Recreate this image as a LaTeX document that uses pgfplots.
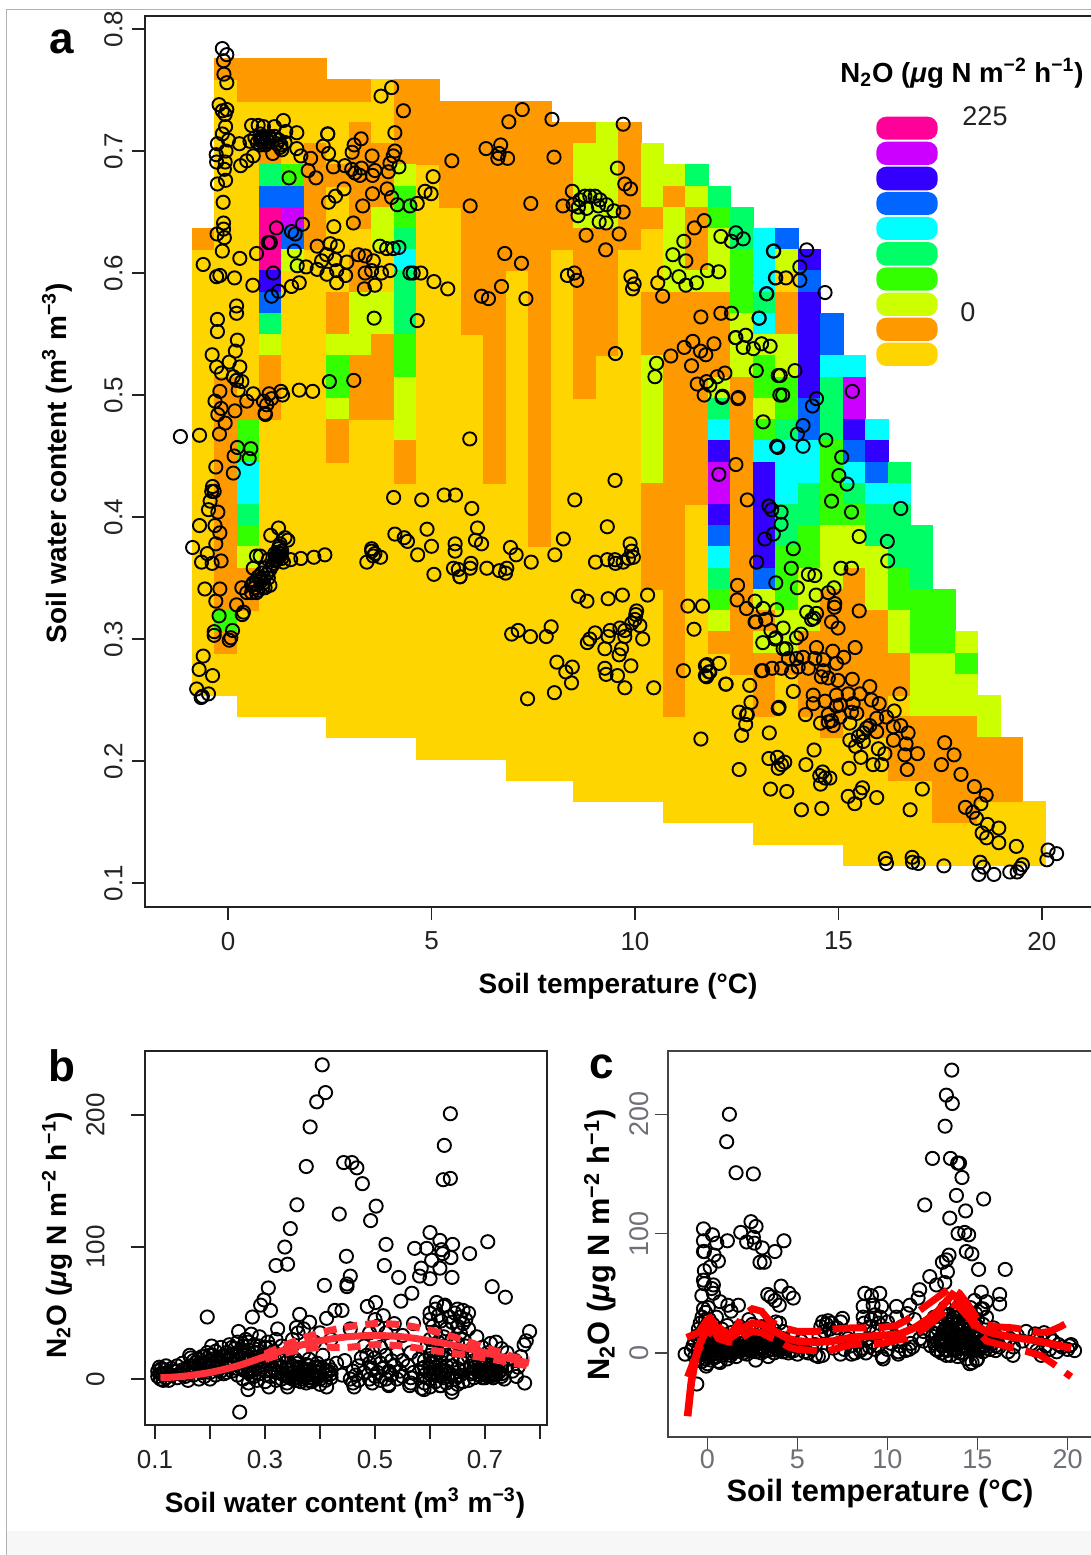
\documentclass[border=0pt]{standalone}
\usepackage{fontspec}
\setmainfont{Liberation Sans}
\usepackage{pgfplots}
\pgfplotsset{compat=1.18}
\definecolor{ca}{HTML}{FFD500}
\definecolor{cb}{HTML}{FF9900}
\definecolor{cc}{HTML}{CCFF00}
\definecolor{cd}{HTML}{33FF00}
\definecolor{ce}{HTML}{00FF66}
\definecolor{cf}{HTML}{00FFFF}
\definecolor{cg}{HTML}{0066FF}
\definecolor{ch}{HTML}{3300FF}
\definecolor{ci}{HTML}{CC00FF}
\definecolor{cj}{HTML}{FF0099}
\definecolor{redb}{HTML}{FF3038}
\definecolor{ax}{HTML}{222222}
\definecolor{axc}{HTML}{444444}
\definecolor{tkc}{HTML}{6E7078}
\newcommand\X[2]{\def\xa{#1}\def\xb{#2}}
\newcommand\C[3]{\addplot[forget plot,fill=c#1,draw=c#1,line width=0.1pt] coordinates {(\xa,#2)(\xb,#2)(\xb,#3)(\xa,#3)} --cycle;}
\newcommand\PX[2]{({#1*0.5pt},{(1555-#2)*0.5pt})}
\newcommand\Nunit{N\textsubscript{2}O (\textit{μ}g N m\textsuperscript{−2} h\textsuperscript{−1})}
\pgfplotsset{
  base/.style={scale only axis, axis line style={line width=0.7pt,draw=ax}, tick style={line width=0.7pt,color=ax},
    tick align=outside, xtick pos=bottom, ytick pos=left, major tick length=6.5pt,
    /pgf/number format/assume math mode=true,
    tick label style={font=\fontsize{13}{13}\selectfont, color=ax},
    minor tick num=0, anchor=south west},
  pts/.style={only marks, mark=o, mark size=3.3pt, mark options={line width=0.95pt,draw=black}},
}
\begin{document}
\begin{tikzpicture}[x=1pt,y=1pt]
\path[use as bounding box] (0,0) rectangle (545.5pt,777.5pt);
\fill[black!3] (3pt,0pt) rectangle (545.5pt,12pt);
\draw[black!30,line width=0.5pt] (3pt,0pt) -- (3pt,772.5pt) -- (545.5pt,772.5pt);
% ---------------- panel a
\begin{axis}[base, at={(72.5pt,324pt)}, width=473.5pt, height=445.5pt,
  xmin=-2.04, xmax=21.23, ymin=0.0803, ymax=0.8107,
  xticklabel style={yshift=-2.5pt},
  yticklabel style={rotate=90,anchor=south,inner ysep=4.5pt},
  xtick={0,5,10,15,20}, ytick={0.1,0.2,0.3,0.4,0.5,0.6,0.7,0.8},
  yticklabels={0.1,0.2,0.3,0.4,0.5,0.6,0.7,0.8}]
\X{-.892}{-.340}\C{a}{.6368}{.254}\C{b}{.6368}{.6194}
\X{-.340}{.211}\C{a}{.776}{.254}\C{b}{.776}{.7586}\C{b}{.515}{.3236}\C{d}{.3236}{.3062}\C{b}{.3062}{.2888}
\X{.211}{.763}\C{a}{.776}{.2366}\C{b}{.776}{.7412}\C{b}{.4976}{.4802}\C{d}{.4802}{.4454}\C{f}{.4454}{.4106}\C{e}{.4106}{.3932}\C{d}{.3932}{.3758}\C{c}{.3758}{.3584}\C{b}{.3584}{.3236}
\X{.763}{1.314}\C{a}{.776}{.2366}\C{b}{.776}{.7412}\C{b}{.7064}{.689}\C{e}{.689}{.6716}\C{g}{.6716}{.6542}\C{j}{.6542}{.602}\C{h}{.602}{.5846}\C{g}{.5846}{.5672}\C{e}{.5672}{.5498}\C{c}{.5498}{.5324}\C{b}{.5324}{.4802}
\X{1.314}{1.866}\C{a}{.776}{.2366}\C{b}{.776}{.7412}\C{d}{.689}{.6716}\C{g}{.6716}{.6542}\C{i}{.6542}{.6368}\C{g}{.6368}{.6194}\C{c}{.6194}{.602}
\X{1.866}{2.418}\C{a}{.776}{.2366}\C{b}{.776}{.7412}\C{b}{.7064}{.6194}
\X{2.418}{2.969}\C{a}{.7586}{.2192}\C{b}{.7586}{.7412}\C{b}{.689}{.6716}\C{b}{.5846}{.5498}\C{c}{.5498}{.5324}\C{d}{.5324}{.4976}\C{c}{.4976}{.4802}\C{b}{.4802}{.4454}
\X{2.969}{3.521}\C{a}{.7586}{.2192}\C{b}{.7586}{.7412}\C{b}{.7238}{.6368}\C{b}{.6194}{.5846}\C{c}{.5846}{.5324}\C{b}{.5324}{.4802}
\X{3.521}{4.072}\C{a}{.7586}{.2192}\C{b}{.7064}{.6542}\C{c}{.6542}{.6194}\C{c}{.5846}{.5498}\C{b}{.5498}{.4802}
\X{4.072}{4.624}\C{a}{.7586}{.2192}\C{b}{.7586}{.689}\C{c}{.689}{.6716}\C{d}{.6716}{.6368}\C{e}{.6368}{.6194}\C{f}{.6194}{.602}\C{e}{.602}{.5498}\C{d}{.5498}{.515}\C{c}{.515}{.4628}\C{b}{.4628}{.428}
\X{4.624}{5.176}\C{a}{.7586}{.2018}\C{b}{.7586}{.689}
\X{5.176}{5.727}\C{a}{.7412}{.2018}\C{b}{.7412}{.6542}
\X{5.727}{6.279}\C{a}{.7412}{.2018}\C{b}{.7412}{.5498}
\X{6.279}{6.830}\C{a}{.7412}{.2018}\C{b}{.7412}{.428}
\X{6.830}{7.382}\C{a}{.7412}{.1844}\C{b}{.7412}{.602}
\X{7.382}{7.934}\C{a}{.7412}{.1844}\C{b}{.7412}{.3758}
\X{7.934}{8.485}\C{a}{.7238}{.1844}\C{b}{.7238}{.6194}
\X{8.485}{9.037}\C{a}{.7238}{.167}\C{b}{.7238}{.7064}\C{c}{.7064}{.6368}\C{b}{.6368}{.4976}
\X{9.037}{9.588}\C{a}{.7238}{.167}\C{c}{.7238}{.6368}\C{b}{.6368}{.5324}
\X{9.588}{10.14}\C{a}{.7238}{.167}\C{b}{.7238}{.6194}
\X{10.14}{10.692}\C{a}{.7064}{.167}\C{c}{.7064}{.6542}\C{b}{.6542}{.6368}\C{b}{.5846}{.5324}\C{c}{.5324}{.428}\C{b}{.428}{.341}
\X{10.692}{11.243}\C{a}{.689}{.1496}\C{c}{.689}{.6716}\C{b}{.6716}{.6542}\C{c}{.6542}{.5846}\C{b}{.5846}{.2366}
\X{11.243}{11.795}\C{a}{.689}{.1496}\C{e}{.689}{.6716}\C{c}{.6716}{.6542}\C{b}{.6542}{.602}\C{c}{.602}{.5846}\C{b}{.5846}{.4106}
\X{11.795}{12.346}\C{a}{.6716}{.1496}\C{e}{.6716}{.6542}\C{d}{.6542}{.6368}\C{c}{.6368}{.5846}\C{b}{.5846}{.515}\C{c}{.515}{.4976}\C{e}{.4976}{.4802}\C{f}{.4802}{.4628}\C{h}{.4628}{.4454}\C{i}{.4454}{.4106}\C{h}{.4106}{.3932}\C{g}{.3932}{.3758}\C{f}{.3758}{.3584}\C{e}{.3584}{.341}\C{d}{.341}{.3236}\C{c}{.3236}{.3062}\C{b}{.3062}{.2888}
\X{12.346}{12.898}\C{a}{.6542}{.1496}\C{e}{.6542}{.6194}\C{d}{.6194}{.5672}\C{c}{.5672}{.515}\C{b}{.515}{.2714}
\X{12.898}{13.45}\C{a}{.6368}{.1322}\C{f}{.6368}{.5846}\C{e}{.5846}{.5672}\C{f}{.5672}{.5498}\C{c}{.5498}{.5324}\C{d}{.5324}{.4976}\C{c}{.4976}{.4802}\C{d}{.4802}{.4628}\C{f}{.4628}{.4454}\C{h}{.4454}{.3584}\C{g}{.3584}{.341}\C{c}{.341}{.3236}\C{b}{.3236}{.3062}\C{c}{.3062}{.2888}\C{b}{.2888}{.2366}
\X{13.45}{14.001}\C{a}{.6368}{.1322}\C{g}{.6368}{.6194}\C{c}{.6194}{.602}\C{b}{.5846}{.5498}\C{c}{.5498}{.515}\C{d}{.515}{.4802}\C{e}{.4802}{.4628}\C{f}{.4628}{.4106}\C{e}{.4106}{.3758}\C{d}{.3758}{.3236}\C{c}{.3236}{.2888}\C{b}{.2888}{.2714}
\X{14.001}{14.553}\C{a}{.6194}{.1322}\C{h}{.6194}{.602}\C{g}{.602}{.5846}\C{h}{.5846}{.4976}\C{g}{.4976}{.4628}\C{f}{.4628}{.428}\C{e}{.428}{.3932}\C{d}{.3932}{.3584}\C{c}{.3584}{.3062}\C{b}{.3062}{.2366}
\X{14.553}{15.104}\C{a}{.5672}{.1322}\C{g}{.5672}{.5324}\C{f}{.5324}{.515}\C{e}{.515}{.4628}\C{d}{.4628}{.3932}\C{c}{.3932}{.341}\C{b}{.341}{.2192}
\X{15.104}{15.656}\C{a}{.5324}{.1148}\C{f}{.5324}{.515}\C{i}{.515}{.4802}\C{h}{.4802}{.4628}\C{g}{.4628}{.4454}\C{f}{.4454}{.428}\C{e}{.428}{.4106}\C{d}{.4106}{.3932}\C{c}{.3932}{.3584}\C{b}{.3584}{.2366}
\X{15.656}{16.208}\C{a}{.4802}{.1148}\C{f}{.4802}{.4628}\C{h}{.4628}{.4454}\C{g}{.4454}{.428}\C{f}{.428}{.4106}\C{e}{.4106}{.3758}\C{c}{.3758}{.3236}\C{b}{.3236}{.2192}
\X{16.208}{16.759}\C{a}{.4454}{.1148}\C{e}{.4454}{.428}\C{f}{.428}{.4106}\C{e}{.4106}{.3584}\C{d}{.3584}{.3236}\C{c}{.3236}{.2888}\C{b}{.2888}{.254}\C{b}{.2366}{.1844}
\X{16.759}{17.311}\C{a}{.3932}{.1148}\C{e}{.3932}{.341}\C{d}{.341}{.2888}\C{c}{.2888}{.2366}\C{b}{.2366}{.1844}
\X{17.311}{17.862}\C{a}{.341}{.1148}\C{d}{.341}{.2888}\C{c}{.2888}{.2366}\C{b}{.2366}{.1496}
\X{17.862}{18.414}\C{a}{.3062}{.1148}\C{c}{.3062}{.2888}\C{d}{.2888}{.2714}\C{c}{.2714}{.2366}\C{b}{.2366}{.1496}
\X{18.414}{18.966}\C{a}{.254}{.1148}\C{c}{.254}{.2192}\C{b}{.2192}{.167}
\X{18.966}{19.517}\C{a}{.2192}{.1148}\C{b}{.2192}{.167}
\X{19.517}{20.069}\C{a}{.167}{.1148}
\addplot[pts] coordinates {
(-.14,.784)(-.03,.779)(-.11,.774)(-.10,.763)(-.03,.756)(-.22,.738)(-.14,.733)(-.03,.734)(-.07,.730)(-.06,.720)(-.14,.714)(.01,.709)(-.26,.706)(-.05,.700)(-.29,.697)(-.07,.691)(-.28,.691)(-.09,.685)(-.06,.676)(-.26,.673)(-.12,.658)(-.11,.641)(-.11,.636)(-.27,.632)(-.09,.629)(-.14,.618)(-.61,.607)
(.28,.706)(.58,.721)(.74,.721)(.87,.720)(1.14,.720)(1.36,.725)(1.42,.716)(1.69,.715)(.54,.708)(.66,.711)(.79,.710)(.87,.711)(.95,.710)(.79,.714)(1.15,.712)(1.40,.707)(1.28,.703)(1.32,.701)(1.10,.698)(.62,.696)(.46,.692)(.31,.688)(1.69,.702)(1.79,.696)(2.03,.694)(1.97,.684)(2.16,.678)(1.50,.678)(2.45,.714)(2.45,.714)(2.34,.704)(2.47,.698)(2.59,.687)(2.87,.688)(3.04,.685)(3.12,.682)(3.24,.680)(3.28,.686)(3.27,.710)(3.10,.705)(3.05,.699)(3.54,.696)(3.61,.684)(3.55,.680)(3.94,.683)(3.98,.690)(4.06,.696)(4.10,.700)(4.10,.715)(4.20,.687)(3.76,.745)(4.02,.752)(4.31,.733)(5.50,.692)(5.04,.679)
(.82,.708)(.90,.707)(.98,.708)(.85,.712)(1.02,.712)(.72,.707)(.92,.705)(.80,.705)(1.20,.706)(1.25,.709)(1.30,.705)
(2.85,.669)(2.64,.663)(2.47,.658)(3.55,.665)(3.91,.669)(4.02,.662)(4.16,.656)(4.47,.655)(4.65,.657)(4.84,.667)(4.99,.665)(3.31,.655)(3.08,.641)(2.60,.638)
(1.19,.637)(1.56,.634)(1.65,.632)(1.83,.640)(1.04,.625)(.99,.625)(1.63,.618)(.70,.616)(.29,.612)(1.11,.600)(1.24,.585)(1.07,.581)(.61,.590)(.16,.596)(-.20,.598)(-.28,.597)(1.56,.589)(1.75,.592)(1.70,.606)(1.92,.605)(2.19,.622)(2.51,.624)(2.69,.622)(2.42,.615)(2.30,.610)(2.63,.611)(2.92,.609)(3.20,.615)(3.37,.614)(3.57,.610)(3.37,.600)(3.53,.602)(2.19,.603)(2.43,.599)(2.67,.602)(2.89,.598)(2.67,.592)(3.61,.590)(3.35,.587)(3.73,.622)(3.90,.620)(4.06,.620)(4.20,.621)(3.77,.600)(3.98,.602)(4.47,.600)(4.55,.600)(4.74,.600)(5.06,.593)(5.40,.587)(.21,.573)(.21,.567)(-.26,.562)(-.26,.552)(3.59,.563)(4.65,.561)
(.23,.545)(.18,.536)(-.39,.533)(.03,.527)(.29,.523)(-.28,.523)(-.16,.518)(.13,.515)(.34,.511)(.25,.504)(.21,.512)(-.20,.503)(.62,.501)(1.01,.501)(1.30,.503)(1.34,.500)(1.07,.497)(.87,.495)(.95,.492)(.46,.495)(-.32,.495)(-.17,.489)(.17,.487)(-.25,.484)(.91,.485)(.92,.484)(1.75,.504)(2.08,.503)(2.49,.511)(3.09,.512)(-.07,.477)(-.21,.468)(-.70,.467)(-1.17,.466)(.23,.457)(.56,.456)(.15,.450)(.52,.448)(-.30,.441)(.13,.436)(-.38,.425)(-.40,.421)(-.34,.421)(-.44,.413)(-.48,.406)(-.25,.404)(-.70,.393)(-.32,.393)(-.20,.387)(-.30,.378)(-.87,.375)(-.51,.370)(-.65,.363)(-.39,.362)(-.17,.364)(-.57,.341)(-.20,.341)(-.30,.331)(-.22,.319)(.34,.342)(.21,.328)(.38,.322)(.35,.320)(-.34,.306)(-.34,.303)(.11,.307)(.07,.301)(.03,.299)
(1.24,.391)(1.05,.385)(1.47,.381)(1.40,.383)(1.28,.378)(1.24,.374)(1.32,.372)(1.15,.370)(1.28,.368)(1.20,.365)(1.36,.363)(1.54,.365)(1.79,.366)(2.11,.367)(2.38,.369)(.70,.368)(.79,.368)(.99,.365)(.91,.358)(.83,.354)(1.03,.357)(.99,.350)(.74,.351)(.62,.358)(.87,.346)(1.03,.344)(.62,.346)(.74,.340)(.58,.338)(.46,.338)(.91,.342)(.70,.338)(.58,.344)
(1.26,.376)(1.22,.371)(1.30,.370)(1.18,.368)(1.24,.367)(1.32,.366)(1.12,.362)(1.08,.360)(1.16,.364)(.95,.353)(.88,.350)(.80,.347)(.68,.345)(.85,.342)(.66,.342)
(3.53,.374)(3.53,.372)(3.57,.368)(3.75,.367)(3.41,.363)(3.61,.370)(4.10,.386)(4.33,.383)(4.41,.380)(4.66,.369)(4.89,.390)(5.00,.376)(5.06,.353)(5.58,.378)(5.58,.372)(5.54,.358)(5.66,.357)(5.70,.351)(4.07,.416)(4.76,.414)(5.31,.418)(5.59,.418)
(-.61,.286)(-.71,.275)(-.38,.270)(-.77,.259)(-.48,.255)(-.63,.253)(-.66,.252)
(7.23,.734)(6.90,.724)(7.96,.726)(9.71,.722)(6.34,.702)(6.70,.705)(6.66,.698)(6.63,.694)(6.87,.694)(8.01,.695)(9.57,.686)(9.75,.673)(9.89,.669)(8.46,.667)(5.95,.655)(7.44,.657)(8.23,.655)(8.48,.656)(8.65,.660)(8.77,.663)(8.89,.663)(9.02,.663)(9.14,.660)(8.61,.654)(8.81,.653)(9.10,.655)(9.30,.656)(9.48,.651)(9.71,.650)(8.60,.647)(9.12,.642)(9.29,.641)(8.80,.631)(9.61,.632)(9.28,.619)(6.80,.616)(7.21,.608)(8.34,.598)(8.51,.600)(8.57,.594)(9.90,.597)(9.98,.591)(9.94,.587)(10.56,.592)(10.72,.600)(11.08,.597)(11.25,.590)(11.51,.592)(10.68,.581)(11.78,.602)(12.06,.601)(11.25,.610)(10.93,.615)(11.20,.626)(11.46,.637)(11.70,.643)(12.11,.630)(12.37,.626)(12.48,.633)(12.66,.628)(13.40,.618)(13.45,.596)(13.23,.583)(6.72,.589)(6.23,.581)(6.40,.579)(7.32,.579)(11.62,.564)(12.11,.567)(12.37,.567)(13.05,.563)(9.52,.534)(10.53,.526)(10.49,.515)(10.88,.532)(11.21,.539)(11.42,.544)(11.61,.536)(11.74,.533)(11.94,.542)(11.39,.524)(11.53,.509)(11.76,.511)(12.02,.515)(12.21,.518)(11.84,.508)(11.70,.500)(12.15,.499)(12.54,.498)(12.48,.547)(12.72,.549)(12.66,.539)(12.91,.538)(13.11,.542)(13.32,.540)(12.98,.520)(13.52,.516)(13.56,.500)
(5.94,.464)(9.51,.430)(8.52,.414)(12.48,.443)(12.06,.435)(12.76,.414)(5.99,.407)(9.32,.392)(6.13,.391)(6.08,.381)(6.23,.378)(6.94,.375)(7.08,.369)(7.45,.363)(8.24,.382)(8.03,.369)(6.36,.358)(6.67,.356)(6.85,.358)(6.82,.354)(5.97,.362)(5.95,.358)(5.70,.351)(9.88,.378)(9.92,.372)(9.96,.367)(9.03,.363)(9.32,.365)(9.51,.365)(9.52,.362)(9.71,.363)(9.84,.366)(8.61,.335)(8.82,.331)(9.34,.333)(9.69,.336)(10.31,.336)(10.04,.323)(10.02,.320)(10.0,.316)(9.92,.313)(10.12,.311)(9.75,.307)(9.63,.309)(9.39,.307)(9.34,.302)(9.02,.305)(8.89,.300)(8.83,.297)(9.75,.302)(10.19,.300)(6.97,.304)(7.13,.307)(7.43,.302)(7.82,.302)(7.94,.310)(9.26,.292)(9.67,.292)(9.61,.287)(8.08,.281)(8.46,.277)(8.30,.273)(8.44,.264)(9.26,.276)(9.29,.271)(9.57,.270)(9.90,.278)(7.36,.251)(8.02,.256)(9.75,.260)(10.46,.260)(11.19,.274)(11.30,.327)(11.66,.327)(11.45,.308)(12.52,.344)(12.51,.332)(12.74,.325)(12.95,.331)(13.15,.325)(13.48,.324)(12.95,.314)(13.21,.316)(13.34,.307)(13.14,.297)(13.44,.300)(11.77,.279)(12.07,.280)(11.84,.273)(11.76,.269)(12.24,.263)(12.82,.262)(12.85,.248)(13.14,.274)(13.37,.276)(12.56,.240)(12.74,.238)(13.52,.243)(13.15,.478)(13.48,.458)(13.29,.409)(13.36,.406)(13.40,.386)(13.19,.382)(12.99,.363)(13.46,.346)
(13.41,.618)(14.22,.619)(14.05,.605)(13.46,.596)(13.71,.596)(14.05,.594)(14.67,.584)(13.24,.583)(13.05,.563)(12.47,.547)(13.57,.516)(13.93,.520)(13.63,.500)(15.34,.503)(12.14,.498)(12.53,.497)(14.46,.497)(14.36,.491)(14.13,.475)(13.99,.468)(14.13,.458)(13.51,.457)(14.69,.463)(15.08,.449)(15.01,.434)(15.21,.427)(14.83,.413)(15.32,.404)(16.53,.407)(13.59,.404)(13.59,.394)(15.51,.384)(16.2,.380)
(13.89,.374)(13.84,.358)(16.21,.364)(15.06,.358)(15.32,.358)(14.26,.353)(14.42,.352)(13.99,.342)(14.89,.342)(14.75,.338)(14.45,.336)(14.91,.329)(14.90,.326)(15.51,.323)(14.22,.322)(14.46,.321)(14.40,.317)(14.34,.316)(14.83,.314)(14.99,.309)(12.97,.314)(13.64,.309)(13.46,.301)(14.08,.304)(13.97,.301)(13.64,.292)(13.71,.292)(14.46,.293)(14.86,.290)(15.41,.293)(15.13,.285)(14.13,.285)(13.77,.284)(13.97,.284)(14.42,.284)(14.63,.283)(13.11,.274)(13.60,.276)(13.85,.273)(14.01,.277)(14.26,.276)(14.95,.280)(14.63,.274)(14.58,.269)(14.75,.268)(14.99,.266)(15.34,.267)(11.73,.278)(11.82,.273)(11.73,.270)(12.23,.263)(12.76,.238)(12.72,.230)(12.62,.221)(11.62,.218)(13.30,.223)(13.54,.244)(13.89,.257)(14.38,.254)(14.38,.247)(14.19,.238)(14.67,.249)(14.56,.231)(14.83,.233)(14.75,.238)(14.95,.254)(14.95,.245)(15.04,.246)(15.24,.255)(15.53,.255)(15.77,.261)(15.81,.250)(16.0,.247)(16.51,.255)(16.37,.241)(15.36,.247)(15.32,.240)(15.45,.239)(15.28,.231)(15.04,.236)(14.75,.232)(14.87,.229)(15.94,.235)(16.18,.236)(15.77,.229)(15.69,.227)(15.94,.224)(16.35,.228)(16.53,.229)(16.71,.223)(16.35,.217)(16.66,.214)(15.61,.223)(15.49,.220)(15.28,.217)(15.61,.216)(15.42,.212)(15.98,.210)(16.14,.206)(16.63,.205)(16.94,.206)(15.55,.203)(15.85,.197)(16.06,.197)(16.69,.193)(17.61,.215)(17.84,.205)(17.53,.197)(18.01,.189)(18.34,.179)(18.63,.172)(18.5,.165)(18.12,.162)(18.3,.158)(18.39,.153)(18.66,.148)(18.94,.145)(18.53,.141)(18.64,.137)(18.94,.133)(19.37,.130)(20.15,.127)(20.36,.124)(20.12,.119)
(13.29,.202)(13.50,.203)(13.68,.199)(13.60,.197)(13.52,.194)(14.40,.209)(14.20,.197)(14.61,.191)(14.54,.188)(14.67,.186)(14.79,.186)(14.56,.181)(15.26,.194)(12.56,.193)(13.33,.177)(13.73,.175)(14.09,.160)(14.59,.161)(15.24,.171)(15.59,.178)(15.53,.174)(15.40,.165)(15.94,.170)(16.76,.160)(17.06,.177)(16.15,.120)(16.18,.116)(16.81,.121)(16.82,.117)(16.96,.116)(17.59,.114)(18.48,.117)(18.56,.113)(18.45,.107)(18.82,.107)(19.21,.109)(19.39,.109)(19.52,.115)(19.46,.112)
};
\end{axis}
% ---------------- panel b
\begin{axis}[base, at={(72.5pt,65pt)}, width=201pt, height=187pt,
  clip marker paths=true,
  xmin=0.0818, xmax=0.8127, ymin=-34.8, ymax=248.5,
  xticklabel style={yshift=-2pt},
  yticklabel style={rotate=90,anchor=south,inner ysep=13pt},
  xtick={0.1,0.2,0.3,0.4,0.5,0.6,0.7,0.8}, xticklabels={0.1,,0.3,,0.5,,0.7,},
  ytick={0,100,200}, yticklabels={0,100,200}, major tick length=7pt]
\addplot[pts] coordinates {
(.404,238)(.410,217)(.394,210)(.382,191)(.637,201)(.626,177)(.375,161)(.443,164)(.458,164)(.467,160)(.477,148)(.624,151)(.637,152)(.358,132)(.502,131)(.435,125)(.492,120)(.346,114)(.336,100)(.320,86)(.341,87)(.306,69)(.298,60)(.292,56)(.310,52)(.277,47)(.195,47)(.448,93)(.455,78)(.449,72)(.449,70)(.408,71)(.520,102)(.517,86)(.543,77)(.572,99)(.594,99)(.600,111)(.618,105)(.641,102)(.621,98)(.623,95)(.638,92)(.672,95)(.705,104)(.603,90)(.584,84)(.581,78)(.600,76)(.618,84)(.640,77)(.713,70)(.737,62)(.567,65)(.547,59)(.501,58)(.486,55)(.612,58)(.627,56)(.427,52)(.440,52)(.781,36)(.775,29)(.771,26)(.363,49)(.412,46)(.381,43)(.357,39)(.323,38)(.252,36)(.203,25)(.163,18)(.772,-3)(.254,-25)(.640,-10)(.269,-8)(.307,-6)(.341,-6)(.412,-6)(.462,-6)(.525,-5)(.563,-5)(.589,-8)(.618,-5)(.757,2)
(.105,2)(.105,6)(.108,9)(.11,0)(.11,4)(.112,8)(.115,-1)(.115,3)(.118,7)(.12,1)(.12,10)(.122,5)(.125,-1)(.13,3)(.13,8)(.135,6)(.14,1)(.14,10)(.145,4)(.15,7)(.15,12)(.155,2)(.16,-1)(.16,5)(.165,10)(.165,16)(.17,3)(.175,7)(.175,13)(.18,0)(.18,10)(.185,5)(.185,17)(.19,2)(.19,12)(.195,8)(.195,20)(.2,0)(.2,5)(.2,14)(.205,10)(.205,18)(.21,3)(.21,21)(.215,7)(.215,14)(.22,12)(.22,24)(.225,4)(.225,17)(.23,9)(.23,20)(.235,14)(.235,26)(.24,6)(.24,18)(.245,11)(.245,23)(.25,3)(.25,15)(.25,28)(.255,9)(.255,20)(.26,0)(.26,13)(.26,25)(.265,6)(.265,18)(.265,30)(.27,-3)(.27,10)(.27,22)(.275,3)(.275,15)(.275,34)(.28,7)(.28,26)(.285,-1)(.285,12)(.285,20)(.29,4)(.29,32)(.295,9)(.295,17)(.3,-2)(.3,6)(.3,24)(.305,12)(.305,28)(.31,2)(.31,16)(.315,8)(.315,21)(.32,-1)(.32,11)(.32,30)(.325,5)(.325,15)(.33,0)(.33,9)(.33,25)(.335,3)(.335,18)(.34,-3)(.34,7)(.34,13)(.345,1)(.345,22)(.35,5)(.35,10)(.35,30)(.355,-1)(.355,3)(.355,15)(.36,1)(.36,7)(.36,12)(.36,35)(.365,-2)(.365,4)(.365,9)(.37,0)(.37,6)(.37,20)(.37,38)(.375,-3)(.375,3)(.375,11)(.38,1)(.38,7)(.38,15)(.385,-2)(.385,4)(.39,0)(.39,9)(.39,28)(.395,2)(.395,12)(.4,-4)(.4,5)(.4,35)(.405,8)(.405,18)(.41,-1)(.41,3)(.415,6)(.415,10)(.42,1)(.42,7)(.42,30)(.43,12)(.44,3)(.445,14)(.455,0)(.455,38)(.46,-3)(.46,6)(.465,3)(.47,-1)(.47,10)(.475,16)(.48,5)(.48,25)(.485,18)(.49,0)(.49,12)(.49,35)(.495,-3)(.495,8)(.495,22)(.5,2)(.5,16)(.5,30)(.5,45)(.505,5)(.505,40)(.51,-1)(.51,12)(.51,24)(.515,8)(.515,48)(.52,0)(.52,18)(.52,35)(.525,-4)(.525,6)(.53,3)(.53,14)(.53,28)(.535,10)(.535,42)(.54,0)(.54,20)(.545,6)(.55,2)(.55,14)(.55,33)(.56,10)(.565,-3)(.565,1)(.565,20)(.57,5)(.57,42)(.58,15)(.585,-7)(.585,8)(.59,-3)(.59,3)(.59,14)(.595,25)(.6,-6)(.6,0)(.6,8)(.6,18)(.6,30)(.6,45)(.6,50)(.605,5)(.605,12)(.605,22)(.605,40)(.61,-2)(.61,9)(.61,16)(.61,35)(.61,53)(.615,3)(.615,20)(.615,28)(.615,48)(.62,-5)(.62,7)(.62,13)(.62,44)(.625,1)(.625,25)(.625,32)(.625,55)(.63,-3)(.63,10)(.63,18)(.63,38)(.635,4)(.635,47)(.64,-7)(.64,14)(.64,30)(.64,43)(.645,0)(.645,22)(.645,50)(.65,-4)(.65,8)(.65,27)(.65,40)(.65,53)(.655,3)(.655,16)(.655,35)(.655,47)(.66,-2)(.66,12)(.66,30)(.66,42)(.66,52)(.665,7)(.665,25)(.665,45)(.67,-1)(.67,17)(.67,38)(.67,50)(.675,4)(.675,10)(.68,1)(.68,14)(.68,21)(.685,7)(.685,32)(.69,3)(.69,11)(.69,18)(.695,1)(.695,6)(.695,24)(.7,4)(.7,9)(.7,14)(.705,2)(.705,7)(.705,20)(.71,4)(.71,11)(.71,27)(.715,1)(.715,6)(.72,3)(.72,9)(.72,16)(.72,28)(.725,5)(.725,12)(.73,2)(.73,7)(.73,23)(.735,0)(.74,10)(.74,20)(.75,6)(.755,14)(.76,9)(.765,17)
(.14,6)(.15,3)(.16,9)(.17,8)(.17,14)(.18,6)(.18,15)(.19,7)(.19,17)(.2,9)(.2,18)(.21,8)(.21,14)(.22,6)(.22,17)(.23,5)(.23,14)(.24,12)(.24,24)(.25,8)(.25,20)(.26,7)(.26,18)(.27,5)(.27,15)(.27,28)(.28,2)(.28,14)(.28,20)(.29,10)(.29,25)(.3,11)(.3,18)(.31,7)(.31,24)(.32,5)(.33,4)(.33,14)(.34,2)(.34,18)(.35,0)(.36,3)(.36,5)(.36,9)(.37,2)(.37,4)(.37,8)(.38,-1)(.38,3)(.38,10)(.39,3)(.39,6)(.4,0)(.4,9)(.41,6)(.42,4)(.59,9)(.6,4)(.6,12)(.61,5)(.61,13)(.62,2)(.62,18)(.63,6)(.64,3)(.64,10)(.65,2)(.68,5)(.68,9)(.69,7)(.69,14)(.7,1)(.7,6)(.7,11)(.71,2)(.71,8)(.71,14)(.72,6)(.72,12)(.73,4)(.73,10)
};
\addplot[redb,line width=3.5pt,smooth] coordinates {(.11,1)(.15,2)(.2,5)(.25,10)(.3,17)(.35,24)(.4,29)(.45,32)(.5,33)(.55,32)(.6,29)(.65,25)(.7,20)(.75,15)(.78,12)};
\addplot[redb,line width=3.5pt,smooth,dash pattern=on 6.5pt off 4pt] coordinates {(.3,19)(.35,28)(.4,35)(.45,39.5)(.5,42)(.55,41)(.6,37)(.65,31)(.7,24)(.75,17)(.78,14)};
\addplot[redb,line width=3.5pt,smooth,dash pattern=on 6.5pt off 4pt] coordinates {(.3,15)(.35,21)(.4,24)(.45,24)(.5,26)(.55,25)(.6,22)(.65,19)(.7,16)(.75,12)(.78,10)};
\end{axis}
% ---------------- panel c
\begin{axis}[base, at={(334pt,59pt)}, width=212pt, height=193pt,
  clip marker paths=true,
  xmin=-2.19, xmax=21.36, ymin=-70.4, ymax=253,
  axis line style={line width=0.8pt,draw=axc}, tick style={line width=0.7pt,color=axc},
  tick label style={font=\fontsize{13.5}{13.5}\selectfont, color=tkc},
  xticklabel style={yshift=3.5pt},
  yticklabel style={rotate=90,anchor=south,inner ysep=2.8pt},
  xtick={0,5,10,15,20}, ytick={0,100,200}, yticklabels={0,100,200}, major tick length=6.5pt]
\addplot[pts] coordinates {
(1.22,200)(1.07,177)(1.59,151)(2.55,150)(13.57,237)(13.27,216)(13.60,209)(13.2,190)(12.5,163)(13.5,163)(13.9,159)(14.0,159)(14.14,147)(13.83,132)(15.34,129)(12.07,124)(14.34,119)(13.46,113)(2.42,110)(2.70,106)(-.22,104)(.28,99)(-.22,94)(.52,92)(1.11,94)(1.85,101)(2.18,93)(2.55,97)(2.61,92)(3.05,88)(3.75,85)(4.25,94)(-.22,85)(-.17,85)(.37,82)(.61,77)(2.92,76)(3.16,76)(-.17,69)(.15,72)(-.22,61)(-.17,58)(.33,57)(.24,54)(-.31,48)(.33,50)(.70,43)(1.13,40)(1.72,40)(1.31,35)(-.22,37)(3.35,49)(3.53,47)(3.75,44)(3.99,40)(4.09,56)(4.53,50)(4.77,46)
(13.92,100)(14.29,101)(14.51,99)(14.38,85)(14.69,83)(13.42,82)(13.05,76)(13.27,78)(13.33,68)(15.06,70)(16.54,70)(12.35,64)(12.72,57)(13.18,59)(11.79,53)(11.70,46)(11.24,40)(10.5,39)(15.21,51)(16.23,49)(16.23,41)(15.49,43)(14.84,44)(15.30,37)(8.74,50)(9.11,48)(9.57,50)(8.65,39)(9.2,40)(9.67,39)(7.5,29)(8.65,30)(9.3,32)(-.59,-26)(-1.24,-1)(2.68,-6)(-.07,-11)(.70,-8)(3.38,-3)(6.16,-3)(7.39,-1)(9.76,-5)(10.6,-1)(13.27,-2)(14.57,-9)(14.94,-6)(16.97,-2)(18.54,-2)(20.39,2)(20.11,6)
(-.9,2)(-.8,6)(-.7,-3)(-.7,10)(-.6,14)(-.5,-5)(-.5,3)(-.5,20)(-.4,8)(-.4,25)(-.3,-7)(-.3,0)(-.3,14)(-.3,30)(-.2,5)(-.2,20)(-.1,-5)(-.1,10)(-.1,28)(-.1,34)(0,-9)(0,2)(0,15)(0,24)(.05,6)(.05,38)(.1,-3)(.1,11)(.1,28)(.2,-6)(.2,4)(.2,18)(.3,0)(.3,9)(.3,24)(.4,-4)(.4,13)(.5,2)(.5,7)(.5,30)(.6,-7)(.6,16)(.7,4)(.7,10)(.8,-2)(.8,20)(.9,6)(.9,13)(1,0)(1,8)(1.1,-5)(1.1,3)(1.1,23)(1.2,10)(1.3,-2)(1.3,6)(1.3,17)(1.4,0)(1.4,12)(1.5,4)(1.5,8)(1.6,-3)(1.7,15)(1.8,2)(1.8,22)(1.9,8)(2,0)(2,12)(2.1,5)(2.1,20)(2.2,-1)(2.3,9)(2.3,28)(2.4,3)(2.4,15)(2.5,7)(2.5,24)(2.6,11)(2.7,1)(2.7,18)(2.8,5)(2.9,13)(3,0)(3,8)(3,22)(3.1,4)(3.2,16)(3.3,10)(3.4,2)(3.4,24)(3.5,6)(3.6,13)(3.7,0)(3.7,19)(3.8,8)(3.8,26)(3.9,3)(4,12)(4,25)(4.1,6)(4.2,1)(4.2,18)(4.3,10)(4.4,4)(4.5,0)(4.6,7)(4.7,14)(4.8,2)(5,-1)(5,5)(5.2,10)(5.4,1)(5.6,0)(5.8,3)(6,-2)(6,7)(6.2,14)(6.3,22)(6.4,-2)(6.4,26)(6.5,18)(6.6,24)(6.7,27)(6.8,20)(6.9,25)(7,4)(7,16)(7.2,21)(7.3,8)(7.4,26)(7.6,3)(7.8,12)(8,-1)(8,6)(8.2,0)(8.3,10)(8.5,2)(8.5,18)(8.6,4)(8.7,25)(8.8,0)(8.9,12)(9,5)(9,22)(9.1,28)(9.2,9)(9.3,3)(9.4,18)(9.5,6)(9.5,25)(9.6,30)(9.7,-3)(9.8,10)(9.9,20)(10,3)(10,26)(10.2,8)(10.4,14)(10.5,30)(10.6,1)(10.7,6)(10.8,22)(11,2)(11.1,33)(11.2,3)(11.3,8)(11.4,5)(11.5,28)(11.8,12)(12,10)(12,18)(12.2,24)(12.4,6)(12.5,14)(12.6,30)(12.7,3)(12.8,9)(12.8,20)(12.9,26)(13,0)(13,13)(13,33)(13.1,6)(13.1,18)(13.2,28)(13.2,38)(13.3,2)(13.3,10)(13.3,22)(13.4,15)(13.4,32)(13.5,-2)(13.5,7)(13.5,26)(13.5,42)(13.6,12)(13.6,20)(13.7,3)(13.7,30)(13.8,9)(13.8,16)(13.8,36)(13.9,-3)(13.9,24)(14,5)(14,13)(14,30)(14.1,18)(14.1,42)(14.2,0)(14.2,9)(14.2,25)(14.3,14)(14.3,34)(14.4,-5)(14.4,5)(14.5,20)(14.5,30)(14.6,10)(14.6,38)(14.7,-8)(14.7,2)(14.7,16)(14.8,7)(14.8,25)(14.9,12)(14.9,33)(15,-5)(15,3)(15,19)(15,28)(15.1,9)(15.2,14)(15.2,37)(15.3,1)(15.3,24)(15.4,6)(15.5,11)(15.5,30)(15.6,16)(15.7,3)(15.8,8)(15.9,21)(16,2)(16,13)(16.2,5)(16.3,17)(16.5,9)(16.7,1)(16.8,12)(17,5)(17.2,15)(17.5,10)(17.7,18)(18,8)(18.2,16)(18.3,2)(18.5,12)(18.7,17)(18.8,6)(19,3)(19,14)(19.2,10)(19.4,1)(19.5,7)(19.7,5)(20,3)(20.2,7)
(-.2,0)(-.1,3)(0,6)(0,10)(.1,2)(.1,7)(.2,-2)(.2,9)(.3,4)(.3,14)(.4,2)(.4,7)(.5,-3)(.5,11)(.6,4)(.6,9)(.7,0)(.7,7)(.8,3)(.8,9)(.9,0)(.9,4)(1,4)(1,11)(1.1,7)(1.2,2)(1.2,5)(1.3,1)(1.4,5)(1.5,1)(1.6,6)(1.7,3)(1.8,6)(1.9,2)(2,5)(2.1,9)(2.2,4)(2.3,2)(2.4,7)(2.5,2)(2.5,12)(2.6,5)(2.7,8)(2.8,12)(2.9,3)(3,5)(3,13)(3.2,2)(3.2,8)(3.4,6)(3.4,12)(3.6,3)(3.6,8)(3.8,4)(3.8,14)(4,2)(4,8)(4.2,5)(4.2,12)(4.4,8)(4.6,2)(4.8,6)(12.6,8)(12.7,16)(12.8,2)(12.9,12)(13,6)(13.1,12)(13.2,3)(13.2,20)(13.3,15)(13.4,6)(13.4,24)(13.5,11)(13.5,18)(13.6,4)(13.6,28)(13.7,9)(13.7,15)(13.8,3)(13.8,24)(13.9,7)(13.9,14)(14,0)(14,9)(14,20)(14.1,4)(14.1,12)(14.2,15)(14.3,6)(14.3,22)(14.4,10)(14.5,3)(14.5,14)(14.6,6)(14.6,20)(14.7,9)(14.8,3)(14.8,14)(14.9,7)(15,9)(15,14)(15.1,3)(15.2,7)(15.3,11)(15.4,14)(15.5,4)(15.6,8)(15.8,13)(16,6)
};
\addplot[red,line width=3.8pt] coordinates {(-1.1,-53)(-.9,-25)(-.7,-8)(-.5,5)(-.2,15)(0,24)(.2,28)(.4,24)(.6,17)(.8,13)(1.2,12)(1.5,15)(2,21)(2.5,25)(3,24)(3.5,20)(4,16)(4.5,12)(5,10)(6,9)(7,10)(8,13)(9,14)(10,15)(10.7,16)(11.5,21)(12.2,28)(12.8,35)(13.2,42)(13.6,49)(14,45)(14.5,33)(15,22)(15.5,18)(16,16)(17,13)(18,11)(19,8)(20.2,4)};
\addplot[red,line width=3.5pt,dash pattern=on 17pt off 6pt] coordinates {(-1.15,13)(-.5,17)(0,28)(.3,31)(.6,22)(1.2,15)(1.6,22)(2,32)(2.5,37)(3,35)(3.5,26)(4,23)(4.5,20)(5,18)(6,18)(7,20)(8,21)(9,21)(9.5,21)(10.5,23)(11,27)(12,38)(13,49)(13.5,55)(14,50)(14.5,40)(15,28)(15.5,24)(16,22)(17,21)(17.8,19)(18.5,17)(19,18)(19.6,22)(20.3,28)};
\addplot[red,line width=3.5pt,dash pattern=on 17pt off 6pt] coordinates {(-1.1,-20)(-.8,-8)(-.4,5)(0,15)(.3,20)(.6,12)(1.2,9)(1.6,9)(2,14)(2.5,18)(3,17)(3.5,13)(4,10)(4.5,5)(5,3)(6,2)(6.5,1)(7.5,5)(8,7)(9,8)(9.7,8)(11,12)(12,20)(13,32)(13.5,42)(14,38)(14.6,28)(15,18)(15.5,10)(16,8)(17,4)(17.8,1)(18.5,-2)(19.2,-9)(20.2,-20)};
\end{axis}
% ---------------- legend of panel a
\foreach \c/\t/\b in {j/116.7/139.7,i/141.7/165,h/166.7/190.3,g/192/215,f/217/240,e/242/265.7,d/267.3/290.7,c/292.7/316,b/317.7/341,a/342.7/366}{
  \fill[c\c,rounded corners=5pt] ({876.3*0.5pt},{(1555-\t)*0.5pt}) rectangle ({937.7*0.5pt},{(1555-\b)*0.5pt});
}
\node[font=\fontsize{13.8}{14}\selectfont\bfseries,anchor=west,inner sep=0pt] at \PX{840}{73} {\Nunit};
\node[font=\fontsize{13.5}{14}\selectfont,text=ax] at \PX{985}{116} {225};
\node[font=\fontsize{13.5}{14}\selectfont,text=ax] at \PX{968}{312} {0};
% ---------------- labels
\node[font=\fontsize{22}{22}\selectfont\bfseries] at \PX{62}{42} {a};
\node[font=\fontsize{22}{22}\selectfont\bfseries] at \PX{62}{1066} {b};
\node[font=\fontsize{22}{22}\selectfont\bfseries] at \PX{602}{1067} {c};
\node[font=\fontsize{14}{14}\selectfont\bfseries] at \PX{618}{986} {Soil temperature (°C)};
\node[font=\fontsize{14}{14}\selectfont\bfseries,rotate=90] at \PX{57}{463} {Soil water content (m\textsuperscript{3} m\textsuperscript{−3})};
\node[font=\fontsize{14}{14}\selectfont\bfseries,rotate=90] at \PX{57}{1235} {\Nunit};
\node[font=\fontsize{14}{14}\selectfont\bfseries] at \PX{345}{1503} {Soil water content (m\textsuperscript{3} m\textsuperscript{−3})};
\node[font=\fontsize{15.4}{15}\selectfont\bfseries,rotate=90] at \PX{600}{1245} {\Nunit};
\node[font=\fontsize{15.4}{15}\selectfont\bfseries] at \PX{880}{1494} {Soil temperature (°C)};
\end{tikzpicture}
\end{document}
